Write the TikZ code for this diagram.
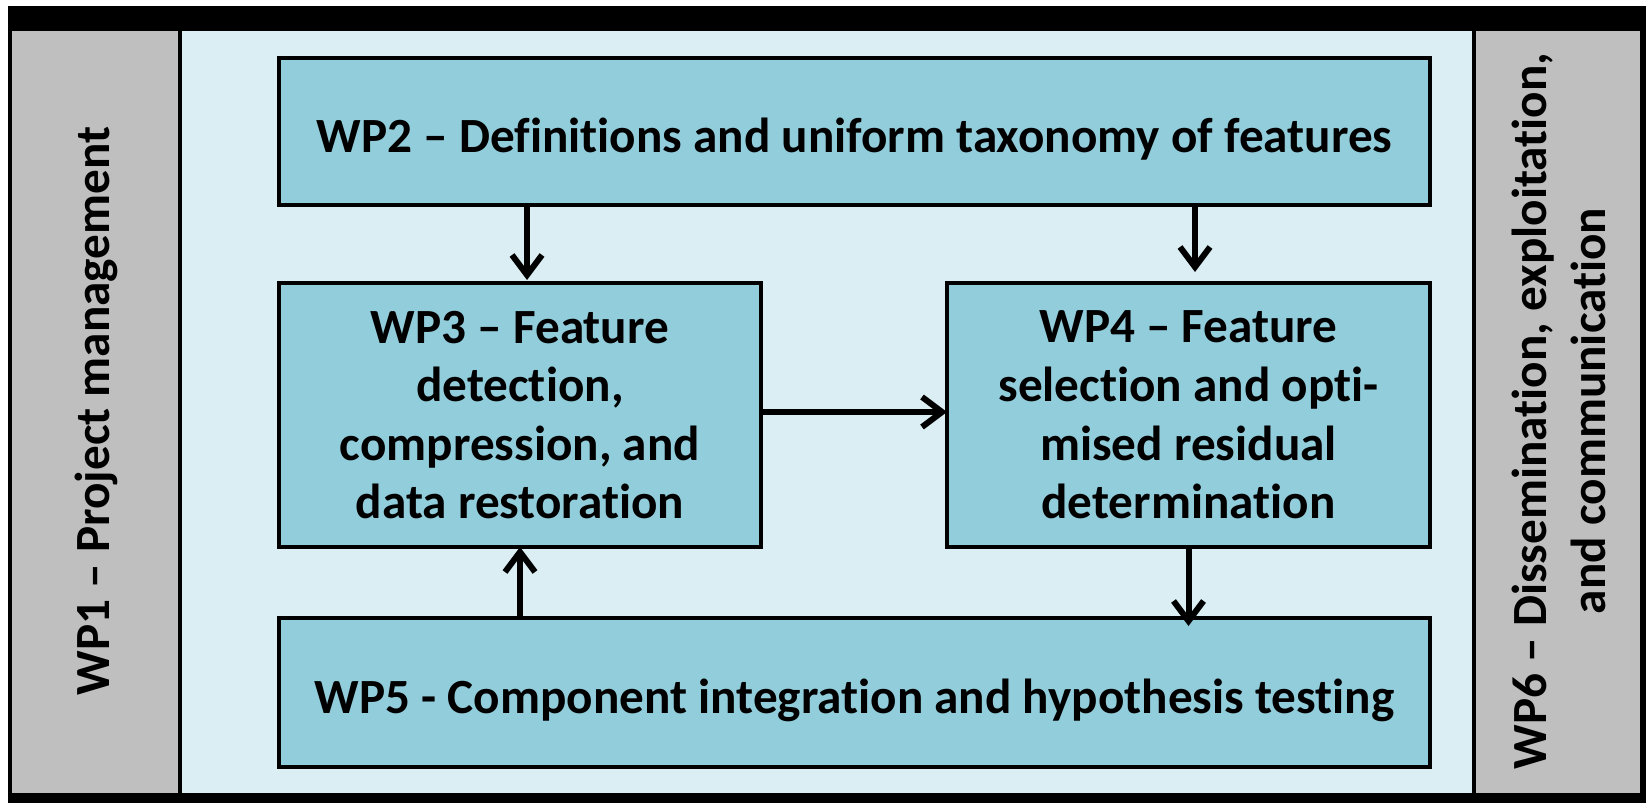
\documentclass[tikz,border=0pt]{standalone}
\usepackage{fontspec}
\setmainfont{Carlito}[Ligatures=NoCommon]
\usetikzlibrary{arrows.meta}
\definecolor{panelgray}{HTML}{BFBFBF}
\definecolor{panelblue}{HTML}{DAEEF3}
\definecolor{boxblue}{HTML}{92CDDC}
\begin{document}
\begin{tikzpicture}[x=0.5pt,y=-0.5pt,
  every node/.style={font=\fontsize{24.6}{29.3}\selectfont\bfseries, inner sep=0pt, outer sep=0pt},
  wpbox/.style={draw=black, line width=2pt, fill=boxblue, align=center},
  oneline/.style={text height=21pt, text depth=0pt},
  arr/.style={line width=3pt, -{Straight Barb[length=10pt,width=15pt]}}]
  % canvas and frame
  \useasboundingbox (0,0) rectangle (1646,803);
  \fill[white] (0,0) rectangle (1646,803);
  \fill[black] (8,6) rectangle (1646,803);
  \fill[panelgray] (12,31) rectangle (178,793);
  \fill[panelblue] (182,31) rectangle (1472,793);
  \fill[panelgray] (1476,31) rectangle (1640,793);
  % side work packages
  \node[rotate=90] (wp1) at (96,411) {WP1 – Project management};
  \node[rotate=90, align=center] (wp6) at (1559,411) {WP6 – Dissemination, exploitation,\\and communication};
  % central work packages
  \node[wpbox, oneline, minimum width=575.5pt, minimum height=73.5pt] (wp2) at (854.5,131.5) {WP2 – Definitions and uniform taxonomy of features};
  \node[wpbox, minimum width=241pt, minimum height=132pt] (wp3) at (520,415) {WP3 – Feature\\detection,\\compression, and\\data restoration};
  \node[wpbox, minimum width=241.5pt, minimum height=132pt] (wp4) at (1188.5,415) {WP4 – Feature\\selection and opti-\\mised residual\\determination};
  \node[wpbox, oneline, minimum width=575.5pt, minimum height=74.5pt] (wp5) at (854.5,692.5) {WP5 - Component integration and hypothesis testing};
  % dependencies
  \draw[arr] ([xshift=3.5pt]wp3.north |- wp2.south) -- ([xshift=3.5pt,yshift=1.5pt]wp3.north);
  \draw[arr] ([xshift=3.25pt]wp4.north |- wp2.south) -- ([xshift=3.25pt,yshift=5.5pt]wp4.north);
  \draw[arr] ([yshift=1.5pt]wp3.east) -- ([yshift=1.5pt]wp4.east -| wp4.west);
  \draw[arr] (wp4.south) -- ([yshift=-4pt]wp5.north -| wp4.south);
  \draw[arr] (wp5.north -| wp3.south) -- (wp3.south);
\end{tikzpicture}
\end{document}
